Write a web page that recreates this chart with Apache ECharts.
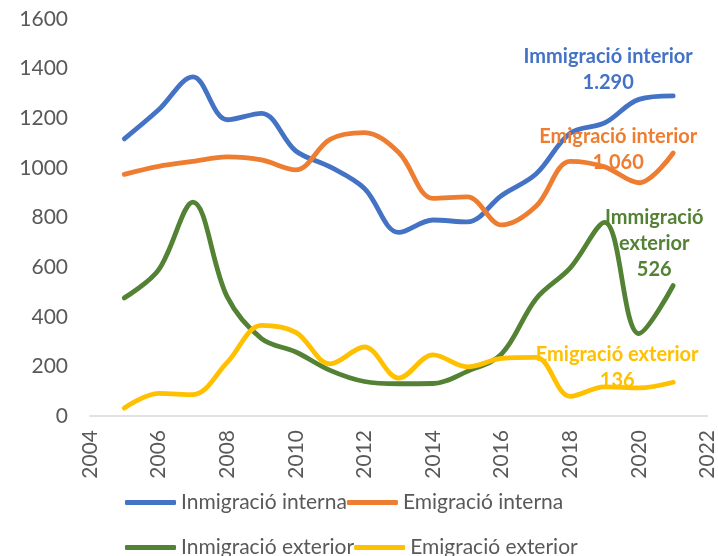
<!DOCTYPE html>
<html>
<head>
<meta charset="utf-8">
<script src="https://cdn.jsdelivr.net/npm/echarts@6/dist/echarts.min.js"></script>
<style>html,body{margin:0;padding:0;background:#fff}#c{width:718px;height:556px}</style>
</head>
<body>
<div id="c"></div>
<script>
var years = [2005,2006,2007,2008,2009,2010,2011,2012,2013,2014,2015,2016,2017,2018,2019,2020,2021];
var immInterna = [1117,1234,1367,1194,1220,1068,1004,917,740,790,782,889,975,1140,1181,1276,1290];
var emiInterna = [974,1006,1026,1044,1032,992,1115,1142,1062,877,883,770,845,1026,1004,940,1060];
var immExterior = [476,589,862,480,312,258,184,139,130,131,180,250,472,597,780,332,526];
var emiExterior = [32,91,86,216,365,337,210,278,153,246,198,232,236,79,117,113,136];
var seriesNames = ['Inmigració interna','Emigració interna','Inmigració exterior','Emigració exterior'];
var endLabels = ['Immigració interior','Emigració interior','Immigració\nexterior','Emigració exterior'];
var colors = ['#4472C4','#ED7D31','#548235','#FFC000'];
var labelOffsets = [[-65,-26],[-55,-3],[-19,-42],[-56,-15]];
var xTicks = {min:2004, max:2022, interval:2};
var yTicks = {min:0, max:1600, interval:200};

function fmt(v){
  var s = String(Math.round(v));
  return s.replace(/\B(?=(\d{3})+(?!\d))/g, '.');
}
var FONT = 'Lato, "Open Sans", sans-serif';
function mk(i, arr){
  var data = years.map(function(y, k){
    var item = {value:[y, arr[k]]};
    if (k === years.length - 1) {
      item.label = {
        show:true, position:'inside', align:'center', verticalAlign:'middle',
        offset: labelOffsets[i],
        formatter: endLabels[i] + '\n' + fmt(arr[k]),
        color: colors[i], fontWeight:'bold', fontSize:20, lineHeight:26,
        fontFamily: FONT
      };
    }
    return item;
  });
  return {
    name: seriesNames[i], type:'line', data:data, smooth:0.35,
    showSymbol:true, symbol:'circle', symbolSize:0.01,
    lineStyle:{color:colors[i], width:4.8, cap:'round'},
    itemStyle:{color:colors[i]},
    label:{show:false},
    emphasis:{disabled:true},
    z: 2
  };
}
var chart = echarts.init(document.getElementById('c'), null, {renderer:'canvas'});
var legendCommon = {
  left:125, padding:0, itemWidth:51, itemHeight:5, itemGap:0, icon:'roundRect',
  textStyle:{fontSize:21, color:'#595959', fontFamily:FONT, width:177},
  selectedMode:false
};
chart.setOption({
  animation:false,
  color: colors,
  grid:{left:90, right:10, top:19, bottom:140, containLabel:false},
  xAxis:{type:'value', min:xTicks.min, max:xTicks.max, interval:xTicks.interval,
    axisLine:{show:true, lineStyle:{color:'#D9D9D9', width:1.5}},
    axisTick:{show:false}, splitLine:{show:false},
    axisLabel:{rotate:90, color:'#595959', fontSize:21, fontFamily:FONT, margin:14,
      formatter:function(v){return String(v);}}
  },
  yAxis:{type:'value', min:yTicks.min, max:yTicks.max, interval:yTicks.interval,
    axisLine:{show:false}, axisTick:{show:false}, splitLine:{show:false},
    axisLabel:{color:'#595959', fontSize:21, fontFamily:FONT, margin:22,
      formatter:function(v){return String(v);}}
  },
  legend:[
    Object.assign({}, legendCommon, {top:492, data:[seriesNames[0], seriesNames[1]]}),
    Object.assign({}, legendCommon, {top:537, data:[seriesNames[2], seriesNames[3]]})
  ],
  series:[mk(0, immInterna), mk(1, emiInterna), mk(2, immExterior), mk(3, emiExterior)]
});
</script>
</body>
</html>
